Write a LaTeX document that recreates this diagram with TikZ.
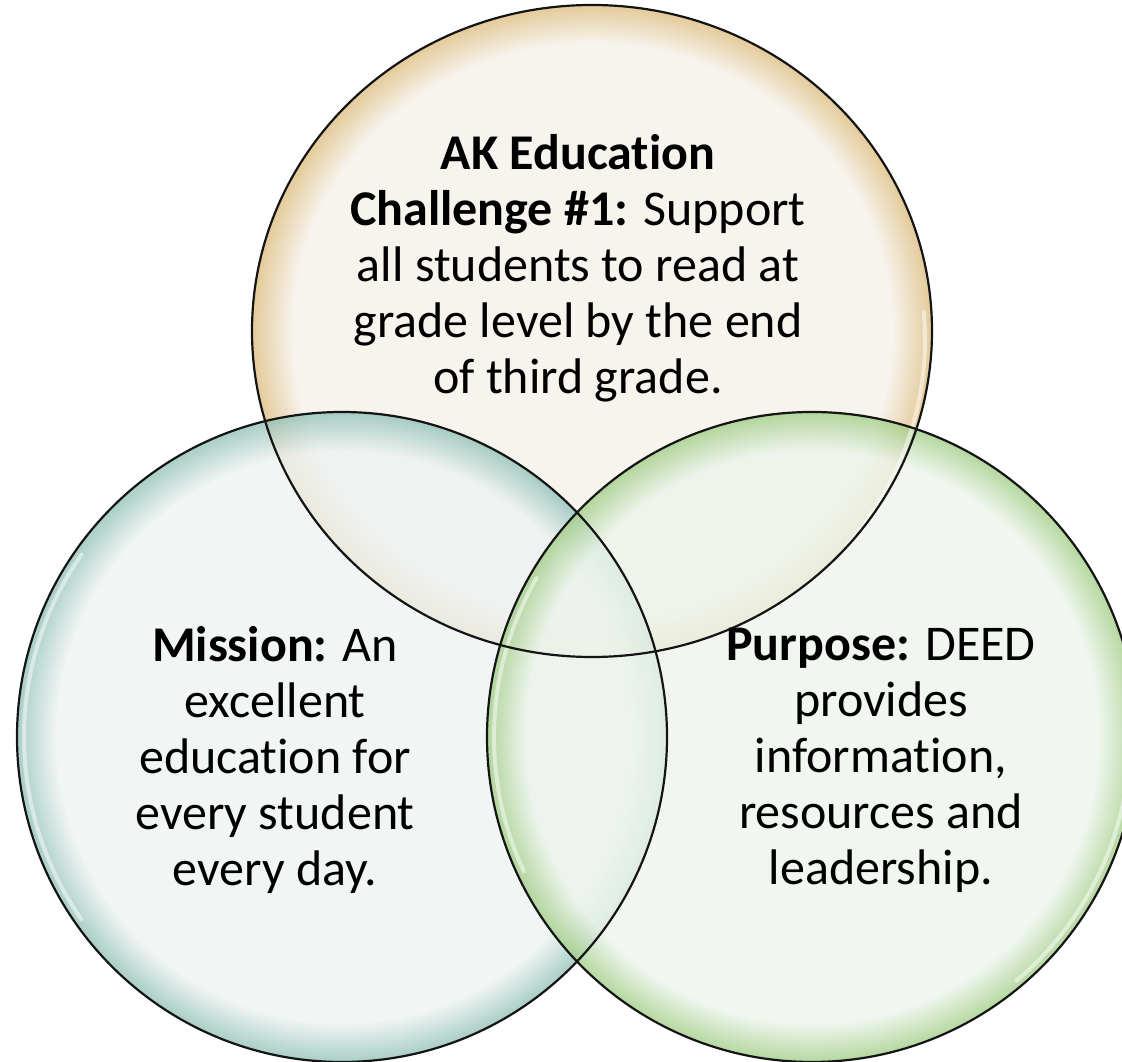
\documentclass[tikz,border=0pt]{standalone}
\usepackage{fontspec}
\setmainfont{Carlito}[Ligatures=NoCommon]
\usetikzlibrary{shapes.geometric}

\definecolor{tanin}{HTML}{F5F1EA}
\definecolor{tanout}{HTML}{DDBD80}
\definecolor{tealin}{HTML}{EDF2F1}
\definecolor{tealout}{HTML}{93C2B8}
\definecolor{greenin}{HTML}{EDF4EC}
\definecolor{greenout}{HTML}{A2CE88}
\definecolor{rimcol}{HTML}{141414}

\pgfdeclareradialshading{tanshade}{\pgfpoint{0bp}{0bp}}{color(0bp)=(tanin); color(22bp)=(tanin); color(25bp)=(tanout); color(50bp)=(tanout)}
\pgfdeclareradialshading{tealshade}{\pgfpoint{0bp}{0bp}}{color(0bp)=(tealin); color(22bp)=(tealin); color(25bp)=(tealout); color(50bp)=(tealout)}
\pgfdeclareradialshading{greenshade}{\pgfpoint{0bp}{0bp}}{color(0bp)=(greenin); color(22bp)=(greenin); color(25bp)=(greenout); color(50bp)=(greenout)}

\begin{document}
\begin{tikzpicture}[bubble/.style={inner sep=0pt, shade, fill opacity=0.8},
                    rim/.style={draw=rimcol, line width=2.2pt},
                    shine/.style={draw=white, line width=4pt, opacity=0.5, line cap=round},
                    words/.style={align=center, text=black, font=\fontsize{50}{56}\selectfont}]
                    \useasboundingbox (0,0) rectangle (1122pt,1061pt);
                    \coordinate (topcenter) at (592pt,730pt);
                    \coordinate (leftcenter) at (342pt,324pt);
                    \coordinate (rightcenter) at (812pt,324pt);

                    \node[bubble, ellipse, shading=tanshade, minimum width=680pt, minimum height=652pt](challenge) at (topcenter) {};
                    \node[bubble, circle, shading=tealshade, minimum size=650pt](mission) at (leftcenter) {};
                    \node[bubble, circle, shading=greenshade, minimum size=650pt](purpose) at (rightcenter) {};

                    % soft light on the rims
                    \draw[shine] ([shift={(-40:333pt)}]challenge.center) arc[start angle=-40, end angle=5, x radius=333pt, y radius=319pt];
                    \draw[shine] ([shift={(145:318pt)}]mission.center) arc[start angle=145, end angle=215, radius=318pt];
                    \draw[shine] ([shift={(150:318pt)}]purpose.center) arc[start angle=150, end angle=205, radius=318pt];
                    \draw[shine] ([shift={(-50:318pt)}]purpose.center) arc[start angle=-50, end angle=-5, radius=318pt];

                    \draw[rim] (challenge.center) ellipse [x radius=340pt, y radius=326pt];
                    \draw[rim] (mission.center) circle [radius=325pt];
                    \draw[rim] (purpose.center) circle [radius=325pt];

                    \node[words](challengetext) at ([shift={(-14pt,63pt)}]challenge.center) {\textbf{AK Education}\\\textbf{Challenge \#1:} Support\\all students to read at\\grade level by the end\\of third grade.};
                    \node[words](missiontext) at ([shift={(-67pt,-23pt)}]mission.center) {\textbf{Mission:} An\\excellent\\education for\\every student\\every day.};
                    \node[words](purposetext) at ([shift={(69pt,-23pt)}]purpose.center) {\textbf{Purpose:} DEED\\provides\\information,\\resources and\\leadership.};
                \end{tikzpicture}
\end{document}
